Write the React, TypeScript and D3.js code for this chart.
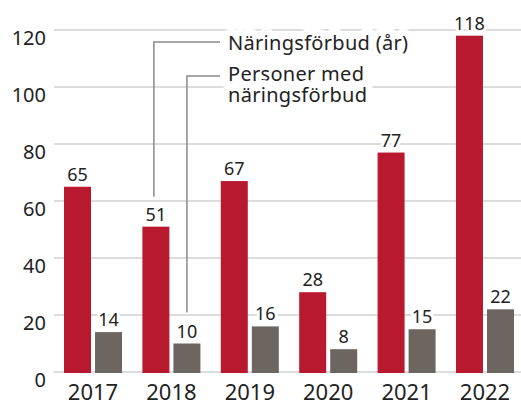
import React from "react";
import * as d3 from "d3";

const years = ["2017", "2018", "2019", "2020", "2021", "2022"];
const forbudAr = [65, 51, 67, 28, 77, 118];
const personer = [14, 10, 16, 8, 15, 22];
const yTicks = [0, 20, 40, 60, 80, 100, 120];
const seriesNames = ["Näringsförbud (år)", "Personer med", "näringsförbud"];

const W = 521;
const H = 403;
const FONT = "'Noto Sans', sans-serif";
const RED = "#b8192f";
const GRAY = "#6d6560";
const TEXT = "#222";

export default function App() {
  const y = d3.scaleLinear().domain([0, 120]).range([372, 30]);
  const x = d3.scaleBand<string>().domain(years).range([64, 514]).paddingInner(0.26).paddingOuter(0);
  const sub = d3.scaleBand<string>().domain(["a", "b"]).range([0, x.bandwidth()]).paddingInner(0.13).paddingOuter(0);
  const bw = sub.bandwidth();

  const refYear = years[1];
  const redX = (x(refYear) as number) + (sub("a") as number) + bw / 2 - 2;
  const grayX = (x(refYear) as number) + (sub("b") as number) + bw / 2;
  const redEnd = y(forbudAr[1]) - 30;
  const grayEnd = y(personer[1]) - 31;
  const legX = 220;

  const halo = { stroke: "#fff", strokeWidth: 14, paintOrder: "stroke" as const, strokeLinejoin: "round" as const };
  const halo2 = { stroke: "#fff", strokeWidth: 6, paintOrder: "stroke" as const, strokeLinejoin: "round" as const };

  return (
    <svg width={W} height={H} style={{ position: "absolute", left: 0, top: 0, background: "#fff" }} fontFamily={FONT}>
      {yTicks.map((t) => (
        <g key={t}>
          <line x1={54} x2={W} y1={y(t)} y2={y(t)} stroke="#dcdcdc" strokeWidth={2} />
          <text x={46} y={y(t) + 15} textAnchor="end" fontSize={20} fill={TEXT}>
            {t}
          </text>
        </g>
      ))}

      {/* leader lines */}
      <polyline points={`${redX},${redEnd} ${redX},${y(0) - 330} ${legX},${y(0) - 330}`} fill="none" stroke="#8a8a8a" strokeWidth={1.5} />
      <polyline points={`${grayX},${grayEnd} ${grayX},${y(0) - 296} ${legX},${y(0) - 296}`} fill="none" stroke="#8a8a8a" strokeWidth={1.5} />

      {/* legend texts */}
      <text x={228} y={50} fontSize={20} letterSpacing={0.3} fill={TEXT} {...halo}>{seriesNames[0]}</text>
      <text fontSize={20} letterSpacing={0.3} fill={TEXT} {...halo}>
        <tspan x={228} y={81}>{seriesNames[1]}</tspan>
        <tspan x={228} y={102}>{seriesNames[2]}</tspan>
      </text>

      {years.map((yr, i) => {
        const gx = x(yr) as number;
        const ax = gx + (sub("a") as number);
        const bx = gx + (sub("b") as number);
        return (
          <g key={yr}>
            <rect x={ax} y={y(forbudAr[i])} width={bw} height={y(0) - y(forbudAr[i]) + 1} fill={RED} />
            <rect x={bx} y={y(personer[i])} width={bw} height={y(0) - y(personer[i]) + 1} fill={GRAY} />
            <text x={ax + bw / 2} y={y(forbudAr[i]) - 6} textAnchor="middle" fontSize={18} fill={TEXT} {...halo2}>
              {forbudAr[i]}
            </text>
            <text x={bx + bw / 2} y={y(personer[i]) - 6} textAnchor="middle" fontSize={18} fill={TEXT} {...halo2}>
              {personer[i]}
            </text>
            <text x={gx + x.bandwidth() / 2} y={400} textAnchor="middle" fontSize={22} fill={TEXT}>
              {yr}
            </text>
          </g>
        );
      })}
    </svg>
  );
}
